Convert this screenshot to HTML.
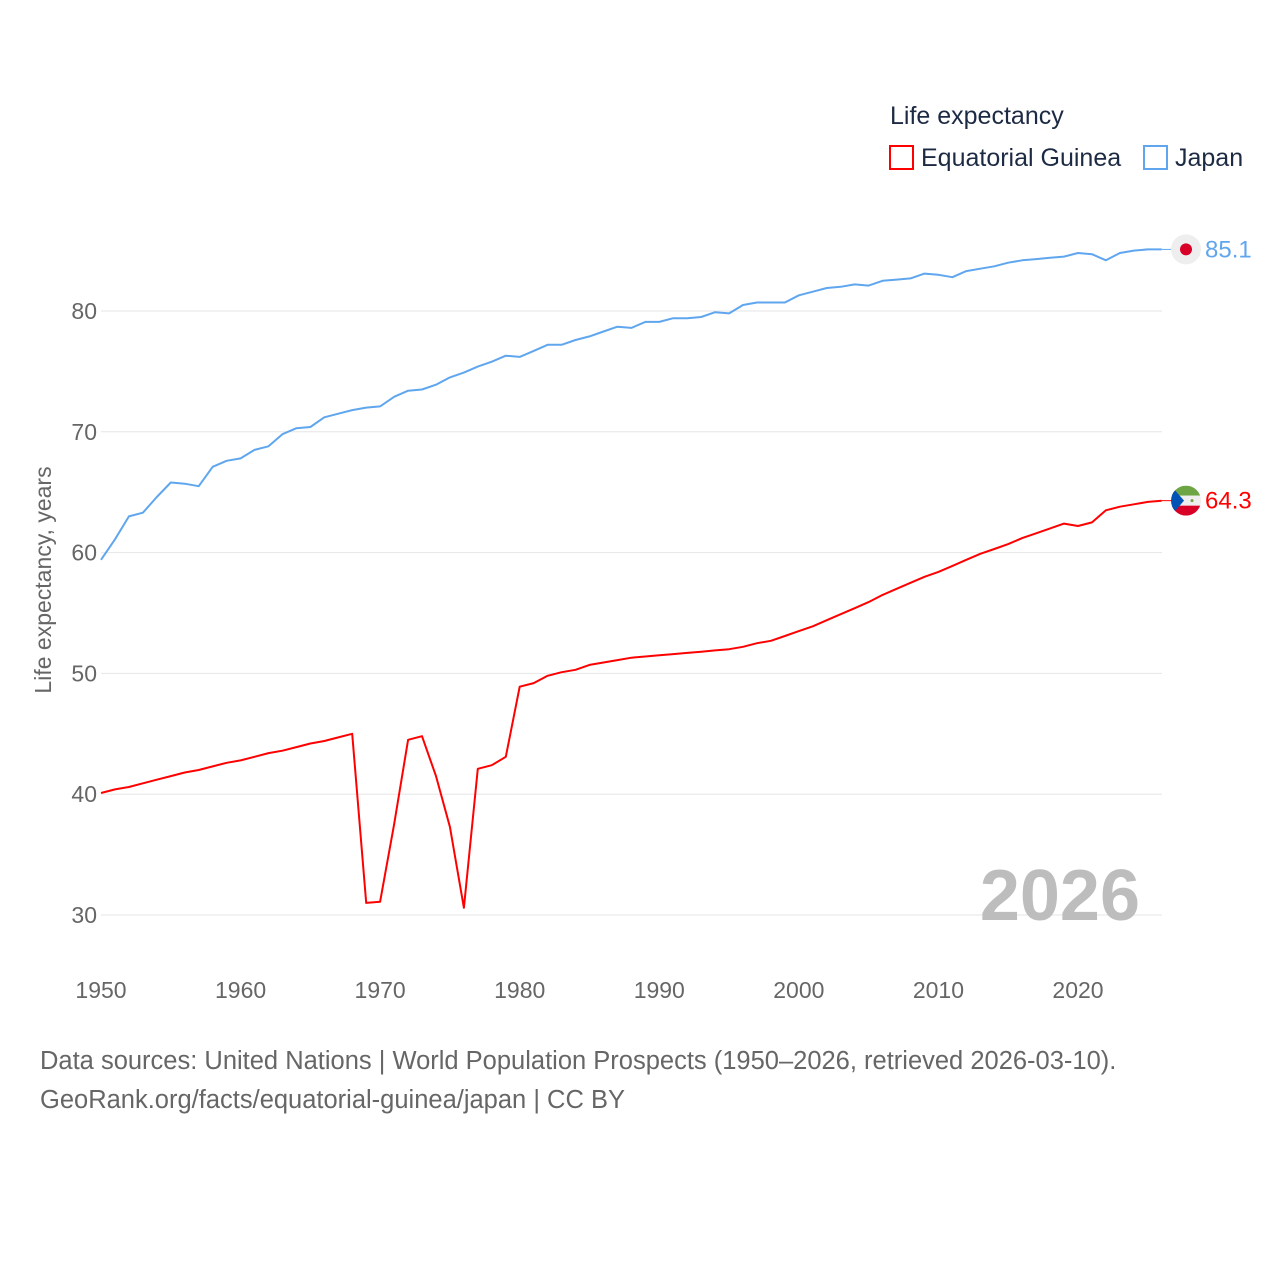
<!DOCTYPE html>
<html><head><meta charset="utf-8"><style>
body{margin:0;background:#fff;}
svg text{font-family:"Liberation Sans",sans-serif;}
</style></head><body>
<svg id="chart" width="1280" height="1280" xmlns="http://www.w3.org/2000/svg">
<text x="890" y="124" font-size="25" fill="#1d2a44">Life expectancy</text>
<rect x="890" y="146" width="23" height="23" fill="none" stroke="#f00" stroke-width="2"/>
<text x="921" y="166" font-size="25" fill="#1d2a44">Equatorial Guinea</text>
<rect x="1144" y="146" width="23" height="23" fill="none" stroke="#5fa6ee" stroke-width="2"/>
<text x="1175" y="166" font-size="25" fill="#1d2a44">Japan</text>
<g id="grid"></g>
<text x="1140" y="920" font-size="72" font-weight="bold" fill="#bdbdbd" text-anchor="end">2026</text>
<g id="series"></g>
<text transform="translate(51,580) rotate(-90)" font-size="23" fill="#666" text-anchor="middle">Life expectancy, years</text>
<text x="40" y="1069" font-size="25.5" fill="#666">Data sources: United Nations | World Population Prospects (1950–2026, retrieved 2026-03-10).</text>
<text x="40" y="1108" font-size="25.5" fill="#666">GeoRank.org/facts/equatorial-guinea/japan | CC BY</text>
</svg>
<script>
const years=[];for(let y=1950;y<=2026;y++)years.push(y);
const japan=[59.4,61.1,63.0,63.3,64.6,65.8,65.7,65.5,67.1,67.6,67.8,68.5,68.8,69.8,70.3,70.4,71.2,71.5,71.8,72.0,72.1,72.9,73.4,73.5,73.9,74.5,74.9,75.4,75.8,76.3,76.2,76.7,77.2,77.2,77.6,77.9,78.3,78.7,78.6,79.1,79.1,79.4,79.4,79.5,79.9,79.8,80.5,80.7,80.7,80.7,81.3,81.6,81.9,82.0,82.2,82.1,82.5,82.6,82.7,83.1,83.0,82.8,83.3,83.5,83.7,84.0,84.2,84.3,84.4,84.5,84.8,84.7,84.2,84.8,85.0,85.1,85.1];
const eqGuinea=[40.1,40.4,40.6,40.9,41.2,41.5,41.8,42.0,42.3,42.6,42.8,43.1,43.4,43.6,43.9,44.2,44.4,44.7,45.0,31.0,31.1,37.5,44.5,44.8,41.5,37.3,30.6,42.1,42.4,43.1,48.9,49.2,49.8,50.1,50.3,50.7,50.9,51.1,51.3,51.4,51.5,51.6,51.7,51.8,51.9,52.0,52.2,52.5,52.7,53.1,53.5,53.9,54.4,54.9,55.4,55.9,56.5,57.0,57.5,58.0,58.4,58.9,59.4,59.9,60.3,60.7,61.2,61.6,62.0,62.4,62.2,62.5,63.5,63.8,64.0,64.2,64.3];
const yTicks=[30,40,50,60,70,80];
const xTicks=[1950,1960,1970,1980,1990,2000,2010,2020];
const NS="http://www.w3.org/2000/svg";
const xs=y=>101+(y-1950)*(977/70);
const ys=v=>915-(v-30)*12.08;
const grid=document.getElementById('grid'),ser=document.getElementById('series');
function mk(tag,attrs,parent){const e=document.createElementNS(NS,tag);for(const k in attrs)e.setAttribute(k,attrs[k]);parent.appendChild(e);return e;}
yTicks.forEach(v=>{
 const l=mk('line',{x1:101,x2:1162,y1:ys(v),y2:ys(v),stroke:'#e6e6e6','stroke-width':1},grid);
 
 
 const t=mk('text',{x:97,y:ys(v)+8,'font-size':23,fill:'#666','text-anchor':'end'},grid);
 t.textContent=v;
 
 
});
xTicks.forEach(v=>{
 const t=mk('text',{x:xs(v),y:998,'font-size':23,fill:'#666','text-anchor':'middle'},grid);
 t.textContent=v;
 
 
});
function line(vals,color,name){
 const d=vals.map((v,i)=>(i?'L':'M')+xs(years[i]).toFixed(1)+','+ys(v).toFixed(1)).join('');
 const p=mk('path',{d:d,fill:'none',stroke:color,'stroke-width':2,'stroke-linejoin':'round'},ser);
 
 
 const lv=vals[vals.length-1],ly=ys(lv);
 mk('line',{x1:xs(2026),x2:1172,y1:ly,y2:ly,stroke:color,'stroke-width':1},ser);
 const t=mk('text',{x:1205,y:ly+8,'font-size':24,fill:color},ser);
 t.textContent=lv.toFixed(1);
 
 
 return ly;
}
const jy=line(japan,'#5fa6ee','japan');
const gy=line(eqGuinea,'#ff0000','equatorial-guinea');
const jf=mk('g',{},ser);


mk('circle',{cx:1186,cy:jy,r:15,fill:'#eee'},jf);
mk('circle',{cx:1186,cy:jy,r:6,fill:'#d80027'},jf);
const gf=mk('g',{},ser);


mk('clipPath',{id:'cp'},gf);
mk('circle',{cx:1186,cy:gy,r:15},document.getElementById('cp'));
const cg=mk('g',{'clip-path':'url(#cp)'},gf);
mk('rect',{x:1171,y:gy-15,width:30,height:10,fill:'#6da544'},cg);
mk('rect',{x:1171,y:gy-5,width:30,height:10,fill:'#eee'},cg);
mk('rect',{x:1171,y:gy+5,width:30,height:10,fill:'#d80027'},cg);
mk('polygon',{points:`1171,${gy-15} 1184,${gy} 1171,${gy+15}`,fill:'#0052b4'},cg);
mk('circle',{cx:1192,cy:gy,r:1.5,fill:'#6da544'},cg);
</script>
</body></html>
